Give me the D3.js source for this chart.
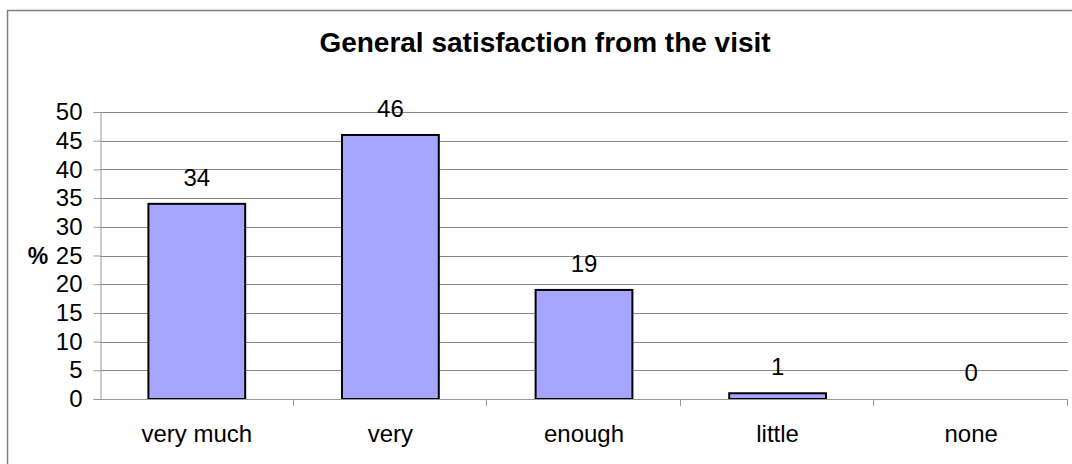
<!DOCTYPE html>
<html>
<head>
<meta charset="utf-8">
<script src="https://cdn.jsdelivr.net/npm/d3@7/dist/d3.min.js"></script>
<style>
  html, body { margin: 0; padding: 0; background: #fff; }
  svg { display: block; font-family: "Liberation Sans", Arial, sans-serif; }
</style>
</head>
<body>
<svg id="chart" width="1072" height="464"></svg>
<script>
// Survey answers: general satisfaction from the visit (percent)
const categories = ["very much", "very", "enough", "little", "none"];
const values = [34, 46, 19, 1, 0];
const yTicks = [0, 5, 10, 15, 20, 25, 30, 35, 40, 45, 50];
const titleText = "General satisfaction from the visit";
const yAxisLabel = "%";

const svg = d3.select("#chart");
const W = 1072, H = 464;
const plot = { left: 100, right: 1068, top: 112, bottom: 399 };

// outer frame
svg.append("rect")
  .attr("x", 7.5).attr("y", 10.5)
  .attr("width", W + 10).attr("height", H + 10)
  .attr("fill", "#fff").attr("stroke", "#7f7f7f").attr("stroke-width", 1.5);

svg.append("text")
  .attr("x", 545).attr("y", 52)
  .attr("text-anchor", "middle")
  .attr("font-size", 28).attr("font-weight", "bold")
  .attr("fill", "#000")
  .text(titleText);

const x = d3.scaleBand()
  .domain(categories)
  .range([plot.left, plot.right])
  .paddingInner(0.5).paddingOuter(0.25);

const y = d3.scaleLinear().domain([0, 50]).range([plot.bottom, plot.top]);

// horizontal gridlines
svg.append("g")
  .selectAll("line")
  .data(yTicks.filter(d => d > 0))
  .join("line")
  .attr("x1", plot.left).attr("x2", plot.right)
  .attr("y1", d => Math.round(y(d)) + 0.5).attr("y2", d => Math.round(y(d)) + 0.5)
  .attr("stroke", "#888").attr("stroke-width", 1);

// y axis
const yAxis = svg.append("g")
  .attr("transform", `translate(${plot.left + 0.5},0)`)
  .call(d3.axisLeft(y).tickValues(yTicks).tickSize(7).tickPadding(11).tickFormat(d3.format("d")));
yAxis.select(".domain").attr("stroke", "#999").attr("stroke-width", 1);
yAxis.selectAll(".tick line").attr("stroke", "#999");
yAxis.selectAll(".tick text")
  .attr("font-size", 24).attr("fill", "#000")
  .attr("font-family", "'Liberation Sans', Arial, sans-serif");

svg.append("text")
  .attr("x", 38).attr("y", y(25))
  .attr("dy", "0.35em")
  .attr("text-anchor", "middle")
  .attr("font-size", 23).attr("font-weight", "bold")
  .text(yAxisLabel);

// bars
svg.append("g")
  .selectAll("rect")
  .data(values)
  .join("rect")
  .attr("x", (d, i) => x(categories[i]))
  .attr("y", d => y(d))
  .attr("width", x.bandwidth())
  .attr("height", d => y(0) - y(d))
  .attr("fill", "#a6a6ff")
  .attr("stroke", "#000").attr("stroke-width", 2)
  .attr("display", d => d > 0 ? null : "none");

// x axis with ticks at category boundaries
const xg = svg.append("g");
xg.append("line")
  .attr("x1", plot.left).attr("x2", plot.right)
  .attr("y1", plot.bottom + 0.5).attr("y2", plot.bottom + 0.5)
  .attr("stroke", "#999");
const step = x.step();
xg.selectAll("line.tk")
  .data(d3.range(1, categories.length + 1))
  .join("line").attr("class", "tk")
  .attr("x1", i => Math.round(plot.left + i * step) - 0.5)
  .attr("x2", i => Math.round(plot.left + i * step) - 0.5)
  .attr("y1", plot.bottom).attr("y2", plot.bottom + 7)
  .attr("stroke", "#999");
xg.selectAll("text")
  .data(categories)
  .join("text")
  .attr("x", d => x(d) + x.bandwidth() / 2)
  .attr("y", 442)
  .attr("text-anchor", "middle")
  .attr("font-size", 24)
  .text(d => d);

// value labels
svg.append("g")
  .selectAll("text")
  .data(values)
  .join("text")
  .attr("x", (d, i) => x(categories[i]) + x.bandwidth() / 2)
  .attr("y", d => y(d) - 18)
  .attr("text-anchor", "middle")
  .attr("font-size", 24)
  .text(d => d);
</script>
</body>
</html>
